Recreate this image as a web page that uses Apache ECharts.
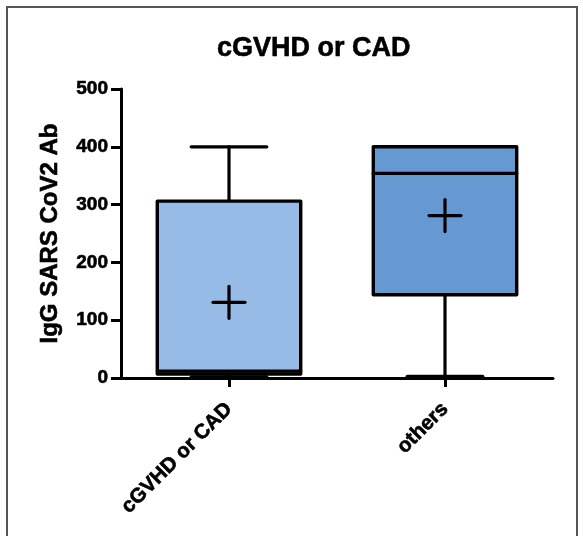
<!DOCTYPE html>
<html>
<head>
<meta charset="utf-8">
<script src="https://cdn.jsdelivr.net/npm/echarts@6/dist/echarts.min.js"></script>
<style>
html,body{margin:0;padding:0;background:#fff;}
#chart{width:583px;height:536px;}
</style>
</head>
<body>
<div id="chart"></div>
<script>
const titleText = 'cGVHD or CAD';
const yAxisName = 'IgG SARS CoV2 Ab';
const categories = ['cGVHD or CAD', 'others'];
const minVals = [2, 3];
const q1Vals = [7, 144];
const medianVals = [12, 354];
const q3Vals = [306, 400];
const maxVals = [400, 400];
const meanVals = [131, 281];
const boxColors = ['#95bbe6', '#6699d1'];
const yMin = 0, yMax = 500, yInterval = 100;

const data = categories.map((c, i) => [i, minVals[i], q1Vals[i], medianVals[i], q3Vals[i], maxVals[i], meanVals[i]]);

const chart = echarts.init(document.getElementById('chart'), null, {renderer: 'canvas'});
const FONT = 'Liberation Sans, Arial, Helvetica, sans-serif';
const heavy = {textBorderColor: '#000', textBorderWidth: 0.6};

function renderItem(params, api) {
  const idx = api.value(0);
  const band = api.size([1, 0])[0];
  const cx = api.coord([idx, 0])[0];
  const y = k => api.coord([idx, api.value(k)])[1];
  const yMinP = y(1), yQ1 = y(2), yMed = y(3), yQ3 = y(4), yMaxP = y(5), yMean = y(6);
  const boxHalf = band * 0.332;
  const capHalf = band * 0.175;
  const crossHalf = 16;
  const line = {stroke: '#000', lineWidth: 3.2, lineCap: 'round'};
  const children = [];
  children.push({type: 'line', shape: {x1: cx, y1: yQ3, x2: cx, y2: yMaxP}, style: line});
  children.push({type: 'line', shape: {x1: cx - capHalf, y1: yMaxP, x2: cx + capHalf, y2: yMaxP}, style: line});
  children.push({type: 'line', shape: {x1: cx, y1: yQ1, x2: cx, y2: yMinP}, style: line});
  children.push({type: 'line', shape: {x1: cx - capHalf, y1: yMinP, x2: cx + capHalf, y2: yMinP}, style: line});
  children.push({type: 'rect', shape: {x: cx - boxHalf, y: yQ3, width: boxHalf * 2, height: yQ1 - yQ3},
    style: {fill: boxColors[idx], stroke: '#000', lineWidth: 3.4, lineJoin: 'round'}});
  children.push({type: 'line', shape: {x1: cx - boxHalf, y1: yMed, x2: cx + boxHalf, y2: yMed}, style: line});
  children.push({type: 'line', shape: {x1: cx - crossHalf, y1: yMean, x2: cx + crossHalf, y2: yMean}, style: line});
  children.push({type: 'line', shape: {x1: cx, y1: yMean - crossHalf, x2: cx, y2: yMean + crossHalf}, style: line});
  return {type: 'group', children: children};
}

chart.setOption({
  animation: false,
  backgroundColor: '#fff',
  title: {
    text: titleText,
    left: 212,
    top: 30,
    textStyle: Object.assign({fontFamily: FONT, fontWeight: 'bold', fontSize: 27, color: '#000'}, heavy)
  },
  grid: {left: 121, right: 30, top: 89, bottom: 158, containLabel: false},
  xAxis: {
    type: 'category',
    data: categories,
    boundaryGap: true,
    axisLine: {show: true, lineStyle: {color: '#000', width: 3}},
    axisTick: {show: true, alignWithLabel: true, length: 9, lineStyle: {color: '#000', width: 3}},
    axisLabel: Object.assign({rotate: 45, margin: 28, color: '#000', fontFamily: FONT, fontWeight: 'bold', fontSize: 20.5, interval: 0}, heavy),
    splitLine: {show: false}
  },
  yAxis: {
    type: 'value',
    min: yMin, max: yMax, interval: yInterval,
    name: yAxisName,
    nameLocation: 'middle',
    nameRotate: 90,
    nameGap: 59,
    nameTextStyle: Object.assign({fontFamily: FONT, fontWeight: 'bold', fontSize: 24, color: '#000'}, heavy),
    axisLine: {show: true, lineStyle: {color: '#000', width: 3}},
    axisTick: {show: true, length: 10, lineStyle: {color: '#000', width: 3}},
    axisLabel: Object.assign({margin: 13, color: '#000', fontFamily: FONT, fontWeight: 'bold', fontSize: 19}, heavy),
    splitLine: {show: false}
  },
  graphic: [
    {type: 'polyline', shape: {points: [[7, 536], [7, 7], [577, 7], [577, 536]]},
      style: {stroke: '#555', lineWidth: 2, fill: null}, silent: true}
  ],
  series: [{
    type: 'custom',
    renderItem: renderItem,
    encode: {x: 0, y: [1, 2, 3, 4, 5, 6]},
    data: data,
    z: 1
  }]
});
</script>
</body>
</html>
